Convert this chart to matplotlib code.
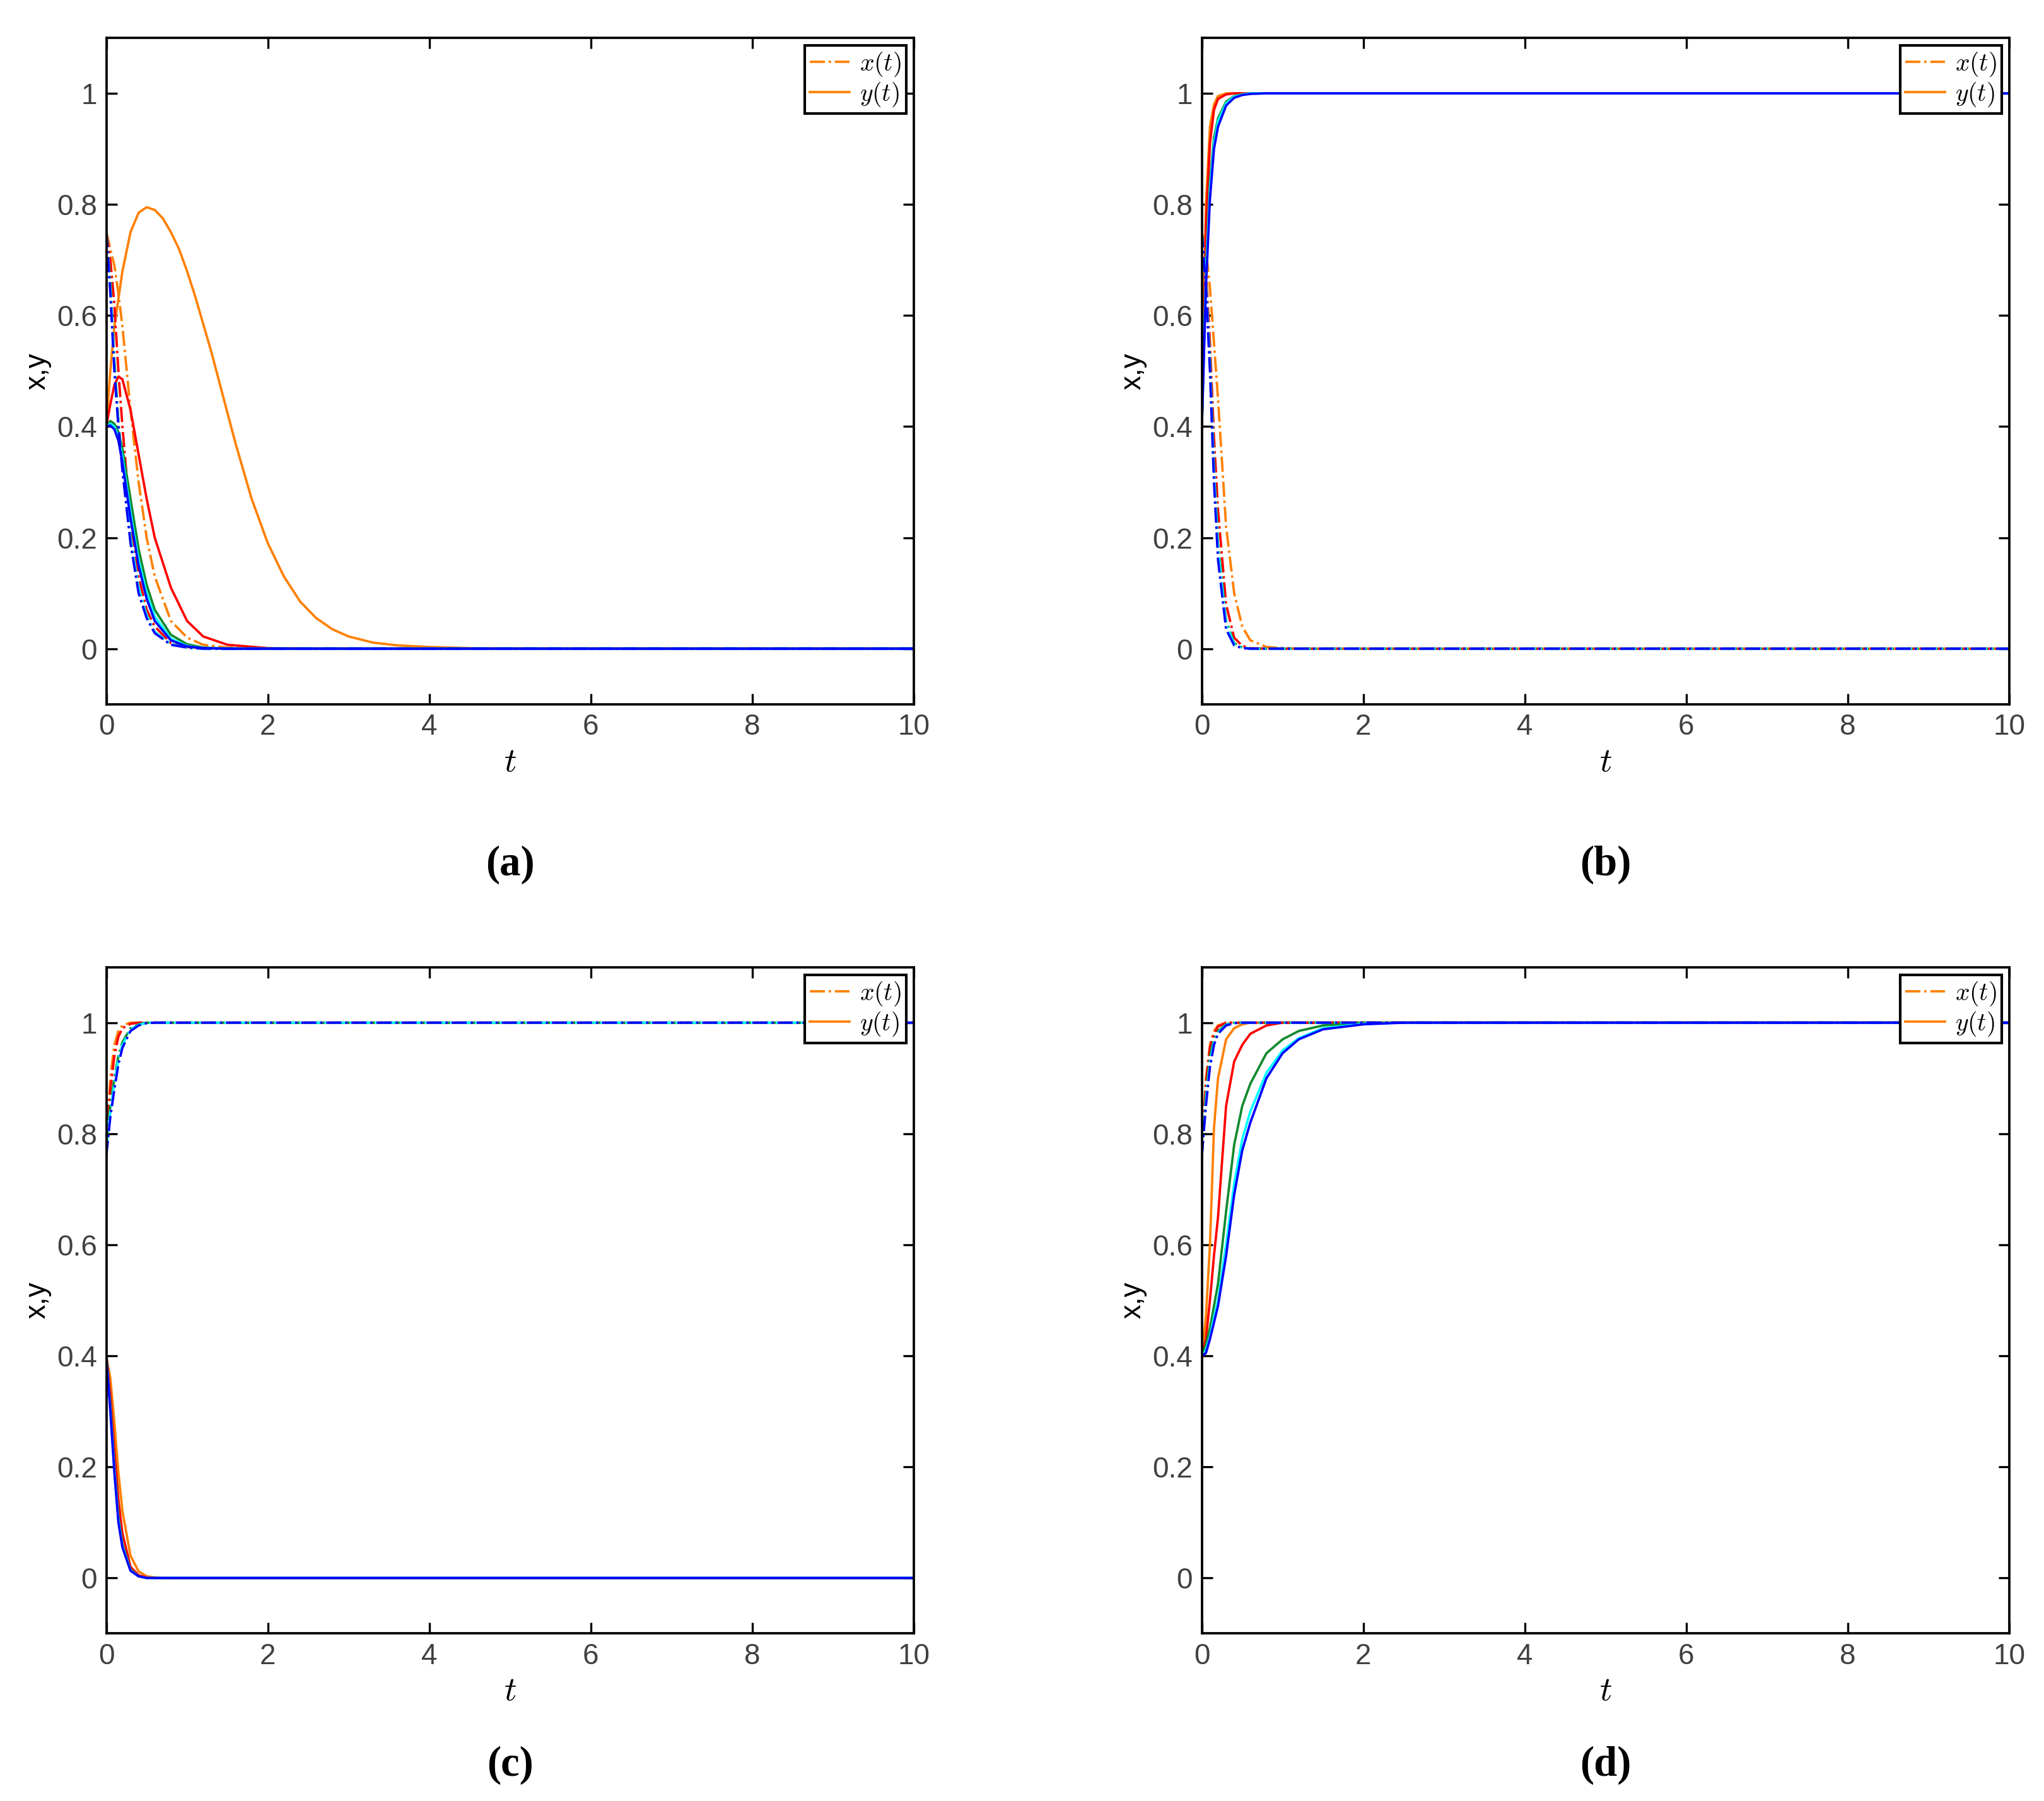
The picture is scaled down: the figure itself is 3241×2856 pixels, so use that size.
import numpy as np
import matplotlib.pyplot as plt

t = [0, 0.05, 0.1, 0.15, 0.2, 0.3, 0.4, 0.5, 0.6, 0.8, 1.0, 1.2, 1.5, 2, 2.5, 3, 3.5, 4, 4.5, 5, 10]
colors = ['#FF8000', '#FF0000', '#128A2E', '#00FFFF', '#0000FF']

def fill(vals, v):
    return vals + [v] * (len(t) - len(vals))

# panel (a): the slow orange y(t) curve is read on a finer grid of its own
t_a_orange = [0, 0.05, 0.1, 0.2, 0.3, 0.4, 0.5, 0.6, 0.7, 0.8, 0.9, 1.0, 1.1, 1.2, 1.3, 1.4, 1.5,
              1.6, 1.8, 2.0, 2.2, 2.4, 2.6, 2.8, 3.0, 3.3, 3.6, 4.0, 4.5, 5, 10]
a_y_orange = [0.4, 0.5, 0.58, 0.68, 0.75, 0.785, 0.795, 0.79, 0.775, 0.75, 0.72, 0.68, 0.635,
              0.585, 0.535, 0.48, 0.425, 0.37, 0.27, 0.19, 0.13, 0.085, 0.055, 0.035, 0.022,
              0.011, 0.006, 0.003, 0.001, 0, 0]

a_x = [fill([0.75, 0.72, 0.69, 0.64, 0.58, 0.43, 0.30, 0.20, 0.13, 0.05, 0.02, 0.007, 0.002], 0),
       fill([0.75, 0.70, 0.62, 0.50, 0.40, 0.23, 0.13, 0.07, 0.04, 0.01, 0.003, 0.001], 0),
       fill([0.75, 0.66, 0.52, 0.41, 0.33, 0.20, 0.11, 0.06, 0.03, 0.008, 0.002], 0),
       fill([0.75, 0.65, 0.51, 0.40, 0.33, 0.20, 0.11, 0.06, 0.03, 0.008, 0.002], 0),
       fill([0.75, 0.64, 0.50, 0.40, 0.32, 0.19, 0.10, 0.055, 0.028, 0.007, 0.002], 0)]
a_y = [None,
       fill([0.4, 0.44, 0.475, 0.49, 0.485, 0.43, 0.35, 0.27, 0.2, 0.11, 0.05, 0.022, 0.007, 0.001], 0),
       fill([0.4, 0.41, 0.405, 0.39, 0.36, 0.27, 0.18, 0.115, 0.07, 0.025, 0.008, 0.002], 0),
       fill([0.4, 0.405, 0.4, 0.38, 0.345, 0.245, 0.16, 0.1, 0.058, 0.018, 0.005, 0.001], 0),
       fill([0.4, 0.402, 0.395, 0.375, 0.335, 0.235, 0.15, 0.09, 0.05, 0.015, 0.004, 0.001], 0)]

# panel (b)
b_x = [fill([0.75, 0.72, 0.65, 0.55, 0.45, 0.22, 0.10, 0.04, 0.015, 0.003, 0.001], 0),
       fill([0.75, 0.68, 0.55, 0.38, 0.25, 0.08, 0.02, 0.005, 0.001], 0),
       fill([0.75, 0.66, 0.52, 0.33, 0.19, 0.05, 0.01, 0.002], 0),
       fill([0.75, 0.66, 0.51, 0.32, 0.18, 0.045, 0.008, 0.001], 0),
       fill([0.75, 0.65, 0.50, 0.30, 0.16, 0.035, 0.006, 0.001], 0)]
b_y = [fill([0.4, 0.8, 0.94, 0.98, 0.995], 1),
       fill([0.4, 0.76, 0.91, 0.97, 0.99, 0.998], 1),
       fill([0.4, 0.68, 0.84, 0.92, 0.955, 0.985, 0.995, 0.998], 1),
       fill([0.4, 0.67, 0.83, 0.91, 0.95, 0.982, 0.994, 0.998], 1),
       fill([0.4, 0.65, 0.81, 0.90, 0.94, 0.978, 0.992, 0.997, 0.999], 1)]

# panel (c)
c_x = [fill([0.78, 0.9, 0.96, 0.985, 0.995], 1),
       fill([0.78, 0.88, 0.94, 0.975, 0.99, 0.998], 1),
       fill([0.78, 0.85, 0.9, 0.94, 0.965, 0.99, 0.997], 1),
       fill([0.77, 0.84, 0.89, 0.935, 0.96, 0.988, 0.996], 1),
       fill([0.76, 0.83, 0.88, 0.925, 0.955, 0.985, 0.995, 0.999], 1)]
c_y = [fill([0.4, 0.36, 0.28, 0.19, 0.12, 0.04, 0.012, 0.003, 0.001], 0),
       fill([0.4, 0.33, 0.23, 0.14, 0.08, 0.02, 0.005, 0.001], 0),
       fill([0.4, 0.31, 0.2, 0.11, 0.06, 0.015, 0.003], 0),
       fill([0.4, 0.305, 0.195, 0.105, 0.058, 0.014, 0.003], 0),
       fill([0.4, 0.30, 0.19, 0.10, 0.055, 0.013, 0.003], 0)]

# panel (d)
d_x = [fill([0.76, 0.9, 0.96, 0.985, 0.995], 1),
       fill([0.76, 0.89, 0.955, 0.98, 0.993], 1),
       fill([0.76, 0.87, 0.94, 0.97, 0.985, 0.997], 1),
       fill([0.76, 0.86, 0.93, 0.965, 0.982, 0.996], 1),
       fill([0.76, 0.85, 0.92, 0.96, 0.98, 0.995, 0.999], 1)]
d_y = [fill([0.4, 0.47, 0.6, 0.81, 0.9, 0.97, 0.99, 0.997], 1),
       fill([0.4, 0.43, 0.5, 0.58, 0.65, 0.85, 0.93, 0.96, 0.98, 0.995], 1),
       fill([0.4, 0.42, 0.45, 0.49, 0.53, 0.66, 0.78, 0.85, 0.89, 0.945, 0.97, 0.985, 0.995], 1),
       fill([0.4, 0.41, 0.435, 0.47, 0.5, 0.6, 0.71, 0.79, 0.84, 0.91, 0.95, 0.972, 0.99, 0.998], 1),
       fill([0.4, 0.405, 0.43, 0.46, 0.49, 0.58, 0.69, 0.77, 0.82, 0.9, 0.945, 0.97, 0.988, 0.997], 1)]

panels = [('a', a_x, a_y), ('b', b_x, b_y), ('c', c_x, c_y), ('d', d_x, d_y)]

plt.rcParams['font.family'] = ['Liberation Sans', 'DejaVu Sans']
plt.rcParams['mathtext.fontset'] = 'cm'

fig = plt.figure(figsize=(3241 / 300, 2856 / 300), dpi=300)
lefts = [0.052, 0.588]
bottoms = [0.609, 0.093]
for i, (name, xs, ys) in enumerate(panels):
    left = lefts[i % 2]
    bottom = bottoms[i // 2]
    ax = fig.add_axes([left, bottom, 0.395, 0.370])
    for col, xv, yv in zip(colors, xs, ys):
        ax.plot(t, xv, color=col, linestyle='-.', linewidth=0.9)
        if yv is None:
            ax.plot(t_a_orange, a_y_orange, color=col, linestyle='-', linewidth=0.9)
        else:
            ax.plot(t, yv, color=col, linestyle='-', linewidth=0.9)
    ax.set_xlim(0, 10)
    ax.set_ylim(-0.1, 1.1)
    ax.set_xticks([0, 2, 4, 6, 8, 10])
    ax.set_yticks([0, 0.2, 0.4, 0.6, 0.8, 1])
    ax.set_yticklabels(['0', '0.2', '0.4', '0.6', '0.8', '1'])
    ax.tick_params(direction='in', top=True, right=True, labelsize=11,
                   labelcolor='#404040', width=0.8, length=4)
    for s in ax.spines.values():
        s.set_linewidth(0.9)
    ax.set_xlabel('$t$', fontsize=13, labelpad=2)
    ax.set_ylabel('x,y', fontsize=11, labelpad=2)
    h1, = ax.plot([], [], color=colors[0], linestyle='-.', linewidth=0.9)
    h2, = ax.plot([], [], color=colors[0], linestyle='-', linewidth=0.9)
    ax.legend([h1, h2], ['$x(t)$', '$y(t)$'], loc='upper right', fontsize=9.5,
              fancybox=False, edgecolor='black', framealpha=1, handlelength=1.6,
              borderpad=0.2, labelspacing=0.1, handletextpad=0.4, borderaxespad=0.3)
    ly = 0.514 if i < 2 else 0.014
    fig.text(left + 0.395 / 2, ly, '(' + name + ')', ha='center', fontsize=16,
             fontweight='bold', family=['Liberation Serif', 'DejaVu Serif'])

fig.savefig('out.png', dpi=300)
